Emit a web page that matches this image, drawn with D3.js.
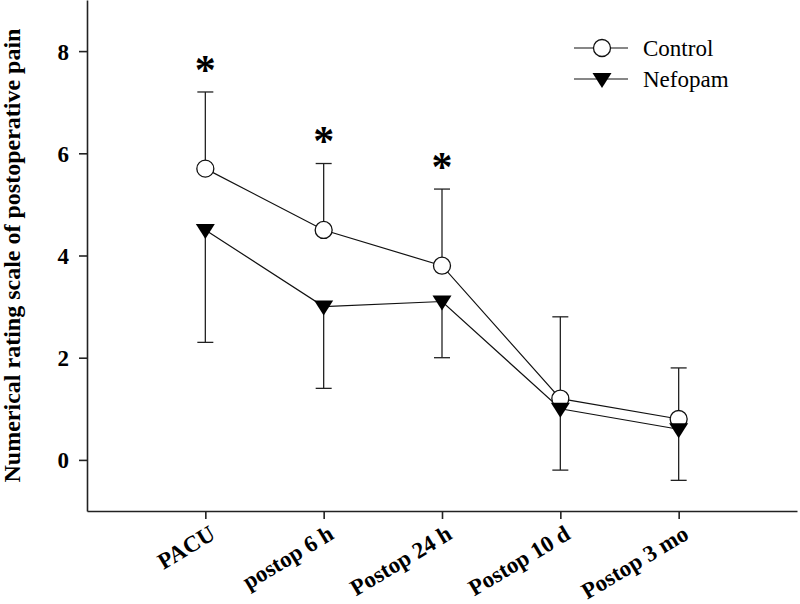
<!DOCTYPE html>
<html>
<head>
<meta charset="utf-8">
<script src="https://d3js.org/d3.v7.min.js"></script>
<style>
  body { margin: 0; background: #fff; }
  svg text { font-family: "Liberation Serif", "Times New Roman", serif; }
</style>
</head>
<body>
<div id="chart"></div>
<script>
var categories = ["PACU", "postop 6 h", "Postop 24 h", "Postop 10 d", "Postop 3 mo"];
var controlMean = [5.7, 4.5, 3.8, 1.2, 0.8];
var controlUpper = [7.2, 5.8, 5.3, 2.8, 1.8];
var nefopamMean = [4.5, 3.0, 3.1, 1.0, 0.6];
var nefopamLower = [2.3, 1.4, 2.0, -0.2, -0.4];
var significant = [true, true, true, false, false];
var yTicks = [0, 2, 4, 6, 8];

var svgWidth = 800, svgHeight = 604;
var margin = { top: 0, left: 87, right: 3, bottom: 93 };
var width = svgWidth - margin.left - margin.right;
var height = svgHeight - margin.top - margin.bottom;

var svg = d3.select("#chart").append("svg")
  .attr("width", svgWidth)
  .attr("height", svgHeight);

var g = svg.append("g")
  .attr("transform", `translate(${margin.left}, ${margin.top})`);

var x = d3.scaleLinear().domain([0, 6]).range([0, width]);
var y = d3.scaleLinear().domain([-1, 9]).range([height, 0]);

// axes
var yAxis = g.append("g")
  .call(d3.axisLeft(y).tickValues(yTicks).tickSize(8).tickSizeOuter(0).tickPadding(10));
yAxis.selectAll("text")
  .style("font-size", "23px").style("font-weight", "bold")
  .attr("dy", "0.35em");

var xAxis = g.append("g")
  .attr("transform", `translate(0, ${height})`)
  .call(d3.axisBottom(x).tickValues([1, 2, 3, 4, 5]).tickSize(8).tickSizeOuter(0)
    .tickFormat(d => categories[d - 1]));
xAxis.selectAll("text")
  .style("font-size", "23px").style("font-weight", "bold")
  .attr("text-anchor", "end")
  .attr("x", 0).attr("y", 0).attr("dy", 0)
  .attr("transform", "translate(11, 27) rotate(-31)");

svg.selectAll(".domain, .tick line").attr("stroke", "#222").attr("stroke-width", 1.6);

// y label
svg.append("text")
  .attr("transform", `translate(20, ${height / 2}) rotate(-90)`)
  .attr("text-anchor", "middle")
  .style("font-size", "24px").style("font-weight", "bold")
  .text("Numerical rating scale of postoperative pain");

var idx = d3.range(categories.length);
var line = d3.line().x(d => x(d[0])).y(d => y(d[1]));

// error bars: control upward, nefopam downward
function errorBars(means, ends) {
  var eb = g.append("g").attr("stroke", "#222").attr("stroke-width", 1.3);
  eb.selectAll("line.v").data(idx).enter().append("line")
    .attr("x1", i => x(i + 1)).attr("x2", i => x(i + 1))
    .attr("y1", i => y(means[i])).attr("y2", i => y(ends[i]));
  eb.selectAll("line.c").data(idx).enter().append("line")
    .attr("x1", i => x(i + 1) - 8).attr("x2", i => x(i + 1) + 8)
    .attr("y1", i => y(ends[i])).attr("y2", i => y(ends[i]));
}
errorBars(controlMean, controlUpper);
errorBars(nefopamMean, nefopamLower);

// lines
g.append("path")
  .datum(idx.map(i => [i + 1, controlMean[i]]))
  .attr("d", line).attr("fill", "none").attr("stroke", "#111").attr("stroke-width", 1.2);
g.append("path")
  .datum(idx.map(i => [i + 1, nefopamMean[i]]))
  .attr("d", line).attr("fill", "none").attr("stroke", "#111").attr("stroke-width", 1.2);

var triangle = "M-9.5,-6 L9.5,-6 L0,9 Z";

// markers
g.selectAll("circle.ctrl").data(idx).enter().append("circle")
  .attr("cx", i => x(i + 1)).attr("cy", i => y(controlMean[i]))
  .attr("r", 8.5).attr("fill", "#fff").attr("stroke", "#111").attr("stroke-width", 1.3);
g.selectAll("path.nef").data(idx).enter().append("path")
  .attr("d", triangle)
  .attr("transform", i => `translate(${x(i + 1)}, ${y(nefopamMean[i])})`)
  .attr("fill", "#000");

// asterisks
g.selectAll("text.star").data(idx.filter(i => significant[i])).enter().append("text")
  .attr("x", i => x(i + 1)).attr("y", i => y(controlUpper[i]) - 28)
  .attr("dy", "0.47em")
  .attr("text-anchor", "middle")
  .style("font-size", "42px").style("font-weight", "bold")
  .text("*");

// legend
var legend = svg.append("g").attr("transform", "translate(574, 48)");
var items = [{ name: "Control", type: "circle" }, { name: "Nefopam", type: "tri" }];
items.forEach(function(it, k) {
  var row = legend.append("g").attr("transform", `translate(0, ${k * 31})`);
  row.append("line").attr("x1", 0).attr("x2", 54).attr("y1", 0).attr("y2", 0)
    .attr("stroke", "#111").attr("stroke-width", 1.2);
  if (it.type == "circle") {
    row.append("circle").attr("cx", 28).attr("cy", 0).attr("r", 8.5)
      .attr("fill", "#fff").attr("stroke", "#111").attr("stroke-width", 1.3);
  } else {
    row.append("path").attr("d", triangle).attr("transform", "translate(28, 0)").attr("fill", "#000");
  }
  row.append("text").attr("x", 69).attr("y", 0).attr("dy", "0.35em")
    .style("font-size", "23px").text(it.name);
});
</script>
</body>
</html>
